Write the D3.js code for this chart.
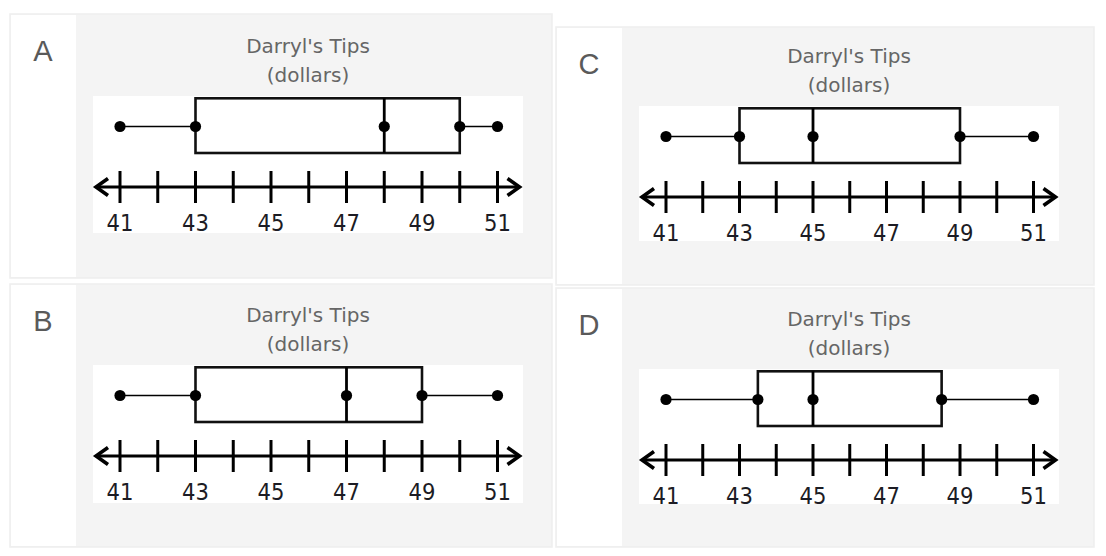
<!DOCTYPE html>
<html>
<head>
<meta charset="utf-8">
<script src="https://cdn.jsdelivr.net/npm/d3@7/dist/d3.min.js"></script>
<style>
  html, body { margin: 0; padding: 0; background: #ffffff; }
  svg { display: block; }
</style>
</head>
<body>
<svg id="chart" width="1106" height="556"></svg>
<script>
// ---- data ----
const panelLabels = ["A", "B", "C", "D"];
const minValues = [41, 41, 41, 41];
const q1Values = [43, 43, 43, 43.5];
const medianValues = [48, 47, 45, 45];
const q3Values = [50, 49, 49, 48.5];
const maxValues = [51, 51, 51, 51];
const tickValues = [41, 42, 43, 44, 45, 46, 47, 48, 49, 50, 51];
const tickLabels = [41, 43, 45, 47, 49, 51];
const titleLines = ["Darryl's Tips", "(dollars)"];
const axisDomain = [41, 51];

// ---- layout ----
const panelLayouts = [
  { x: 10,  y: 14,  w: 542, h: 264, ix: 93,  iy: 96,  iw: 430, ih: 137 },
  { x: 10,  y: 284, w: 542, h: 263, ix: 93,  iy: 365, iw: 430, ih: 138 },
  { x: 556, y: 27,  w: 538, h: 258, ix: 639, iy: 106, iw: 420, ih: 135 },
  { x: 556, y: 288, w: 538, h: 259, ix: 639, iy: 369, iw: 420, ih: 135 }
];
const letterColW = 66;

const svg = d3.select("#chart");

panelLabels.forEach((label, i) => {
  const L = panelLayouts[i];
  const g = svg.append("g");

  // panel background
  g.append("rect")
    .attr("x", L.x).attr("y", L.y).attr("width", L.w).attr("height", L.h)
    .attr("fill", "#f4f4f4").attr("stroke", "#eeeeee").attr("stroke-width", 1.5);
  g.append("rect")
    .attr("x", L.x + 1).attr("y", L.y + 1).attr("width", letterColW - 1).attr("height", L.h - 2)
    .attr("fill", "#ffffff");

  // letter
  g.append("text")
    .attr("x", L.x + letterColW / 2).attr("y", L.y + 47)
    .attr("text-anchor", "middle")
    .attr("font-family", "'Liberation Sans', Arial, sans-serif")
    .attr("font-size", 29)
    .attr("fill", "#5a5a5a")
    .text(label);

  // title
  const cx = L.ix + L.iw / 2;
  titleLines.forEach((t, k) => {
    g.append("text")
      .attr("x", cx).attr("y", L.iy - 43 + k * 29)
      .attr("text-anchor", "middle")
      .attr("font-family", "'DejaVu Sans', Verdana, sans-serif")
      .attr("font-size", 20)
      .attr("fill", "#666666")
      .text(t);
  });

  // image area
  g.append("rect")
    .attr("x", L.ix).attr("y", L.iy).attr("width", L.iw).attr("height", L.ih)
    .attr("fill", "#ffffff");

  const x = d3.scaleLinear().domain(axisDomain).range([L.ix + 27, L.ix + L.iw - 25.5]);

  const boxTop = L.iy + 2.3;
  const boxBot = L.iy + 57;
  const midY = L.iy + 30.5;
  const axisY = L.iy + 91;

  // whiskers
  g.append("line")
    .attr("x1", x(minValues[i])).attr("x2", x(q1Values[i]))
    .attr("y1", midY).attr("y2", midY)
    .attr("stroke", "#000").attr("stroke-width", 1.7);
  g.append("line")
    .attr("x1", x(q3Values[i])).attr("x2", x(maxValues[i]))
    .attr("y1", midY).attr("y2", midY)
    .attr("stroke", "#000").attr("stroke-width", 1.7);

  // box
  g.append("rect")
    .attr("x", x(q1Values[i])).attr("y", boxTop)
    .attr("width", x(q3Values[i]) - x(q1Values[i]))
    .attr("height", boxBot - boxTop)
    .attr("fill", "none").attr("stroke", "#111").attr("stroke-width", 2.6);
  g.append("line")
    .attr("x1", x(medianValues[i])).attr("x2", x(medianValues[i]))
    .attr("y1", boxTop).attr("y2", boxBot)
    .attr("stroke", "#000").attr("stroke-width", 2.8);

  // dots
  const pts = [minValues[i], q1Values[i], medianValues[i], q3Values[i], maxValues[i]];
  g.selectAll("circle.pt").data(pts).enter().append("circle")
    .attr("class", "pt")
    .attr("cx", d => x(d)).attr("cy", midY).attr("r", 5.6)
    .attr("fill", "#000");

  // number line
  const leftTip = L.ix + 2;
  const rightTip = L.ix + L.iw - 2.5;
  g.append("line")
    .attr("x1", leftTip + 1).attr("x2", rightTip - 1)
    .attr("y1", axisY).attr("y2", axisY)
    .attr("stroke", "#000").attr("stroke-width", 3.2);
  g.append("path")
    .attr("d", `M${leftTip + 13},${axisY - 8.5} L${leftTip + 1},${axisY} L${leftTip + 13},${axisY + 8.5}`)
    .attr("fill", "none").attr("stroke", "#000").attr("stroke-width", 3.6)
    .attr("stroke-linejoin", "miter");
  g.append("path")
    .attr("d", `M${rightTip - 13},${axisY - 8.5} L${rightTip - 1},${axisY} L${rightTip - 13},${axisY + 8.5}`)
    .attr("fill", "none").attr("stroke", "#000").attr("stroke-width", 3.6)
    .attr("stroke-linejoin", "miter");

  g.selectAll("line.tick").data(tickValues).enter().append("line")
    .attr("class", "tick")
    .attr("x1", d => x(d)).attr("x2", d => x(d))
    .attr("y1", axisY - 16).attr("y2", axisY + 16)
    .attr("stroke", "#000").attr("stroke-width", 3);

  g.selectAll("text.lbl").data(tickLabels).enter().append("text")
    .attr("class", "lbl")
    .attr("x", d => x(d)).attr("y", L.iy + 134.5)
    .attr("text-anchor", "middle")
    .attr("font-family", "'DejaVu Sans Condensed', 'Liberation Sans Narrow', 'DejaVu Sans', sans-serif")
    .attr("font-size", 23.5)
    .attr("fill", "#1c1c24")
    .text(d => d);
});
</script>
</body>
</html>
